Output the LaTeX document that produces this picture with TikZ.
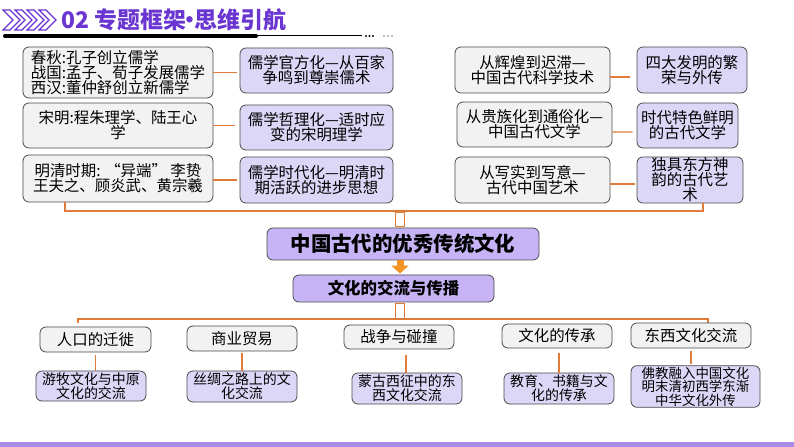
\documentclass[tikz,border=0pt]{standalone}
\usepackage{fontspec}
\setmainfont{Noto Sans CJK SC}
\usetikzlibrary{arrows.meta,calc}
\definecolor{greyfill}{HTML}{F2F2F2}
\definecolor{lavfill}{HTML}{DDD7F7}
\definecolor{cenfill}{HTML}{C6B4F6}
\definecolor{boxborder}{HTML}{4A4A4A}
\definecolor{orln}{HTML}{E07B39}
\definecolor{orarrow}{HTML}{F39424}
\definecolor{hpurple}{HTML}{6A35D0}
\definecolor{band}{HTML}{A98BE6}
\tikzset{
  gbox/.style={draw=boxborder, fill=greyfill, rounded corners=6bp, line width=0.8bp,
    align=center, inner sep=1bp, font=\fontsize{15.5}{15}\selectfont},
  pbox/.style={gbox, fill=lavfill},
  sbox/.style={pbox, font=\fontsize{14}{14}\selectfont},
  cbox/.style={gbox, fill=cenfill},
  oline/.style={draw=orln, line width=1.3bp},
  hollow/.style={draw=orln, fill=white, line width=1bp, inner sep=0pt, minimum width=9bp},
}
\begin{document}
\begin{tikzpicture}[x=1bp,y=-1bp]
\useasboundingbox[fill=white] (0,0) rectangle (794,447);
% header
\foreach \xx in {3,15,27,39}{
  \draw[hpurple, line width=1.1bp, line join=miter]
    (\xx,10) -- (\xx+7,10) -- (\xx+17,20) -- (\xx+7,30) -- (\xx,30) -- (\xx+10,20) -- cycle;
}
\node[anchor=west, text=hpurple, inner sep=0pt, font=\bfseries\fontsize{23}{23}\selectfont] (title) at (61,20) {02 专题框架\kern-0.32em·\kern-0.32em思维引航};
\draw[black, line width=4bp, line cap=round] (5,36) -- (256,36);
\draw[black, line width=1bp] (256,36) -- (362,36);
\foreach \xx in {366,369.5,373}{\fill[black] (\xx,36) circle (1.2);}
\foreach \xx in {384,388,392}{\fill[gray!70] (\xx,36) circle (1.2);}
% top left column
\node[gbox, align=left, minimum width=190bp, minimum height=51bp] (L1) at (118,72.5)
  {春秋:孔子创立儒学\\战国:孟子、荀子发展儒学\\西汉:董仲舒创立新儒学};
\node[pbox, minimum width=153bp, minimum height=45bp] (R1) at (316.5,70.5)
  {儒学官方化—从百家\\争鸣到尊崇儒术};
\node[gbox, minimum width=190bp, minimum height=45bp] (L2) at (118,125.5)
  {宋明:程朱理学、陆王心\\学};
\node[pbox, minimum width=153bp, minimum height=45bp] (R2) at (316.5,127.5)
  {儒学哲理化—适时应\\变的宋明理学};
\node[gbox, minimum width=190bp, minimum height=47bp] (L3) at (118,178.5)
  {明清时期: “异端” 李贽\\王夫之、顾炎武、黄宗羲};
\node[pbox, minimum width=153bp, minimum height=46bp] (R3) at (316.5,180)
  {儒学时代化—明清时\\期活跃的进步思想};
% top right column
\node[gbox, minimum width=155bp, minimum height=46bp] (L4) at (532.5,70)
  {从辉煌到迟滞—\\中国古代科学技术};
\node[pbox, minimum width=110bp, minimum height=46bp] (R4) at (692,70)
  {四大发明的繁\\荣与外传};
\node[gbox, minimum width=155bp, minimum height=45bp] (L5) at (534.5,124.5)
  {从贵族化到通俗化—\\中国古代文学};
\node[pbox, minimum width=101bp, minimum height=45bp] (R5) at (687.5,125.5)
  {时代特色鲜明\\的古代文学};
\node[gbox, minimum width=155bp, minimum height=46bp] (L6) at (532.5,180)
  {从写实到写意—\\古代中国艺术};
\node[pbox, minimum width=106bp, minimum height=46bp] (R6) at (690,180)
  {独具东方神\\韵的古代艺\\术};
% horizontal connectors
\draw[oline] (L1.east) -- ([xshift=-3bp]R1.west |- L1.east);
\draw[oline] (L2.east) -- ([xshift=-5bp]R2.west |- L2.east);
\draw[oline] ([yshift=-1.5bp]L3.east) -- ([xshift=-3bp]R3.west);
\draw[oline] ([yshift=-7bp]L4.east) -- ([xshift=-7bp,yshift=-7bp]R4.west);
\draw[oline] ([yshift=-7.5bp]L5.east) -- ([xshift=-4bp,yshift=-6.5bp]R5.west);
\draw[oline] ([yshift=-4bp]L6.east) -- ([xshift=-2bp,yshift=-4bp]R6.west);
% upper bracket
\coordinate (bl) at (65,211);
\coordinate (br) at (703,211);
\coordinate (ax) at (400,0);
\draw[oline] (L3.south -| bl) -- (bl) -- (br) -- (R6.south -| br);
% centre
\node[cbox, minimum width=272bp, minimum height=32bp, font=\bfseries\fontsize{20.5}{20.5}\selectfont] (C1) at (403,244)
  {中国古代的优秀传统文化};
\node[cbox, minimum width=201bp, minimum height=27bp, font=\bfseries\fontsize{16.5}{16.5}\selectfont] (C2) at (393.5,288.5)
  {文化的交流与传播};
\node[hollow, minimum height=14bp] (H1) at (400,220) {};
\draw[orarrow, line width=7bp, -{Triangle[width=17bp,length=8bp]}] (C1.south -| ax) -- ([yshift=1bp]C2.north -| ax);
\node[hollow, minimum height=15bp] (H2) at (400,311) {};
% lower bracket
\coordinate (cl) at (78,319);
\coordinate (cr) at (708,319);
\draw[oline] ([yshift=-4bp]cl) -- (cl) -- (cr) -- ([yshift=-4bp]cr);
% categories
\node[gbox, minimum width=111bp, minimum height=25bp] (B1) at (95.5,339.5) {人口的迁徙};
\node[gbox, minimum width=110bp, minimum height=25bp] (B2) at (242,338.5) {商业贸易};
\node[gbox, minimum width=110bp, minimum height=24bp] (B3) at (399,337) {战争与碰撞};
\node[gbox, minimum width=110bp, minimum height=24bp] (B4) at (557,336) {文化的传承};
\node[gbox, minimum width=120bp, minimum height=25bp] (B5) at (691,335.5) {东西文化交流};
% sub boxes
\node[sbox, minimum width=110bp, minimum height=30bp] (S1) at (91,386) {游牧文化与中原\\文化的交流};
\node[sbox, minimum width=110bp, minimum height=31bp] (S2) at (242,386.5) {丝绸之路上的文\\化交流};
\node[sbox, minimum width=110bp, minimum height=31bp] (S3) at (407,388.5) {蒙古西征中的东\\西文化交流};
\node[sbox, minimum width=110bp, minimum height=31bp] (S4) at (559,388.5) {教育、书籍与文\\化的传承};
\node[sbox, minimum width=129bp, minimum height=39bp, font=\fontsize{13.5}{12.5}\selectfont] (S5) at (695.5,386.5)
  {佛教融入中国文化\\明末清初西学东渐\\中华文化外传};
\draw[oline] ([yshift=-3bp]B1.south) -- (B1.south |- S1.north);
\draw[oline] ([yshift=-2bp]B2.south) -- (B2.south |- S2.north);
\draw[oline] ([xshift=7bp,yshift=-6bp]B3.south) -- ([xshift=7bp]B3.south |- S3.north);
\draw[oline] ([xshift=2bp,yshift=-5bp]B4.south) -- ([xshift=2bp]B4.south |- S4.north);
\draw[oline] ([yshift=-3bp]B5.south) -- ([yshift=1bp]B5.south |- S5.north);
% bottom band
\fill[band] (0,442) rectangle (794,447);
\end{tikzpicture}
\end{document}
